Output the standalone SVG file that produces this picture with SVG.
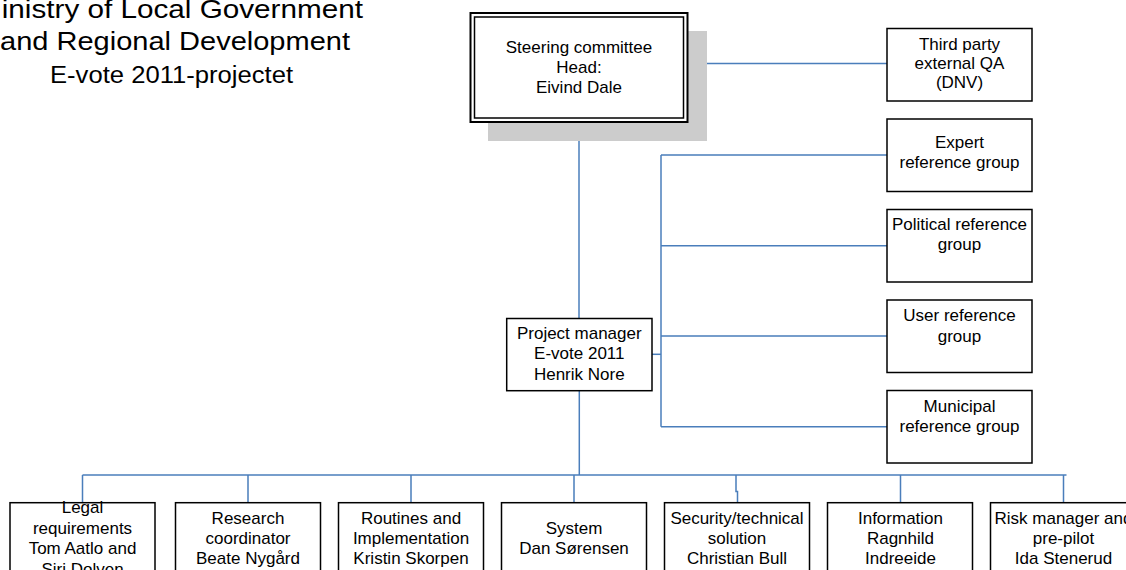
<svg xmlns="http://www.w3.org/2000/svg" width="1126" height="570" viewBox="0 0 1126 570">
<style>
  text { font-family: "Liberation Sans", Arial, sans-serif; fill: #000; }
  .t { font-size: 17px; text-anchor: middle; }
  .box { fill: #fff; stroke: #000; stroke-width: 1.5; }
  .con { fill: none; stroke: #4a7ebb; stroke-width: 1.5; }
</style>
<rect width="1126" height="570" fill="#fff"/>

<g id="title">
  <text x="-23" y="18" font-size="25" textLength="386" lengthAdjust="spacingAndGlyphs">Ministry of Local Government</text>
  <text x="0" y="50" font-size="25" textLength="350" lengthAdjust="spacingAndGlyphs">and Regional Development</text>
  <text x="50" y="83" font-size="23" textLength="243" lengthAdjust="spacingAndGlyphs">E-vote 2011-projectet</text>
</g>

<g id="connectors">
  <path class="con" d="M579 122 V318.5"/>
  <path class="con" d="M688 67.3 H698 V63.5 H887"/>
  <path class="con" d="M652 354.3 H661"/>
  <path class="con" d="M661 155 V426.7"/>
  <path class="con" d="M661 155 H887 M661 245.7 H887 M661 336 H887 M661 426.7 H887"/>
  <path class="con" d="M579.3 390.7 V475"/>
  <path class="con" d="M82.5 475 H1066.5"/>
  <path class="con" d="M82.5 475 V502.7 M248 475 V502.7 M411 475 V502.7 M574 475 V502.7 M900.5 475 V502.7 M1063.5 475 V502.7"/>
  <path class="con" d="M736 475 V491.5 H737.5 V502.7"/>
</g>

<g id="steering">
  <rect x="488" y="31" width="219" height="110" fill="#cccccc"/>
  <rect x="470.5" y="13" width="217" height="109" fill="#fff" stroke="#000" stroke-width="2"/>
  <rect x="474.5" y="17" width="209" height="101" fill="none" stroke="#000" stroke-width="1.5"/>
  <text class="t" x="579" y="52.7">Steering committee</text>
  <text class="t" x="579" y="72.7">Head:</text>
  <text class="t" x="579" y="92.7">Eivind Dale</text>
</g>

<g id="third-party">
  <rect class="box" x="887" y="28.5" width="145" height="72.5"/>
  <text class="t" x="959.5" y="50">Third party</text>
  <text class="t" x="959.5" y="69.3">external QA</text>
  <text class="t" x="959.5" y="88.3">(DNV)</text>
</g>

<g id="expert">
  <rect class="box" x="887" y="119" width="145" height="72.5"/>
  <text class="t" x="959.5" y="148">Expert</text>
  <text class="t" x="959.5" y="167.7">reference group</text>
</g>

<g id="political">
  <rect class="box" x="887" y="209.5" width="145" height="72.5"/>
  <text class="t" x="959.5" y="230">Political reference</text>
  <text class="t" x="959.5" y="250">group</text>
</g>

<g id="user">
  <rect class="box" x="887" y="300" width="145" height="72.5"/>
  <text class="t" x="959.5" y="321">User reference</text>
  <text class="t" x="959.5" y="341.5">group</text>
</g>

<g id="municipal">
  <rect class="box" x="887" y="390.5" width="145" height="72.5"/>
  <text class="t" x="959.5" y="411.7">Municipal</text>
  <text class="t" x="959.5" y="431.7">reference group</text>
</g>

<g id="project-manager">
  <rect class="box" x="506.7" y="318.5" width="145.3" height="72.2"/>
  <text class="t" x="579.3" y="339.3">Project manager</text>
  <text class="t" x="579.3" y="359.3">E-vote 2011</text>
  <text class="t" x="579.3" y="380">Henrik Nore</text>
</g>

<g id="legal">
  <rect class="box" x="10" y="502.7" width="145" height="90"/>
  <text class="t" x="82.5" y="513">Legal</text>
  <text class="t" x="82.5" y="533.5">requirements</text>
  <text class="t" x="82.5" y="554">Tom Aatlo and</text>
  <text class="t" x="82.5" y="574.5">Siri Dolven</text>
</g>

<g id="research">
  <rect class="box" x="175.5" y="502.7" width="145" height="90"/>
  <text class="t" x="248" y="523.5">Research</text>
  <text class="t" x="248" y="543.5">coordinator</text>
  <text class="t" x="248" y="563.5">Beate Nygård</text>
</g>

<g id="routines">
  <rect class="box" x="338.5" y="502.7" width="145" height="90"/>
  <text class="t" x="411" y="523.5">Routines and</text>
  <text class="t" x="411" y="543.5">Implementation</text>
  <text class="t" x="411" y="563.5">Kristin Skorpen</text>
</g>

<g id="system">
  <rect class="box" x="501.5" y="502.7" width="145" height="90"/>
  <text class="t" x="574" y="534">System</text>
  <text class="t" x="574" y="553.5">Dan Sørensen</text>
</g>

<g id="security">
  <rect class="box" x="664.5" y="502.7" width="145" height="90"/>
  <text class="t" x="737" y="523.5">Security/technical</text>
  <text class="t" x="737" y="543.5">solution</text>
  <text class="t" x="737" y="563.5">Christian Bull</text>
</g>

<g id="information">
  <rect class="box" x="827.5" y="502.7" width="145" height="90"/>
  <text class="t" x="900.5" y="523.5">Information</text>
  <text class="t" x="900.5" y="543.5">Ragnhild</text>
  <text class="t" x="900.5" y="563.5">Indreeide</text>
</g>

<g id="risk">
  <rect class="box" x="990.5" y="502.7" width="145" height="90"/>
  <text class="t" x="1063.5" y="523.5">Risk manager and</text>
  <text class="t" x="1063.5" y="543.5">pre-pilot</text>
  <text class="t" x="1063.5" y="563.5">Ida Stenerud</text>
</g>
</svg>
